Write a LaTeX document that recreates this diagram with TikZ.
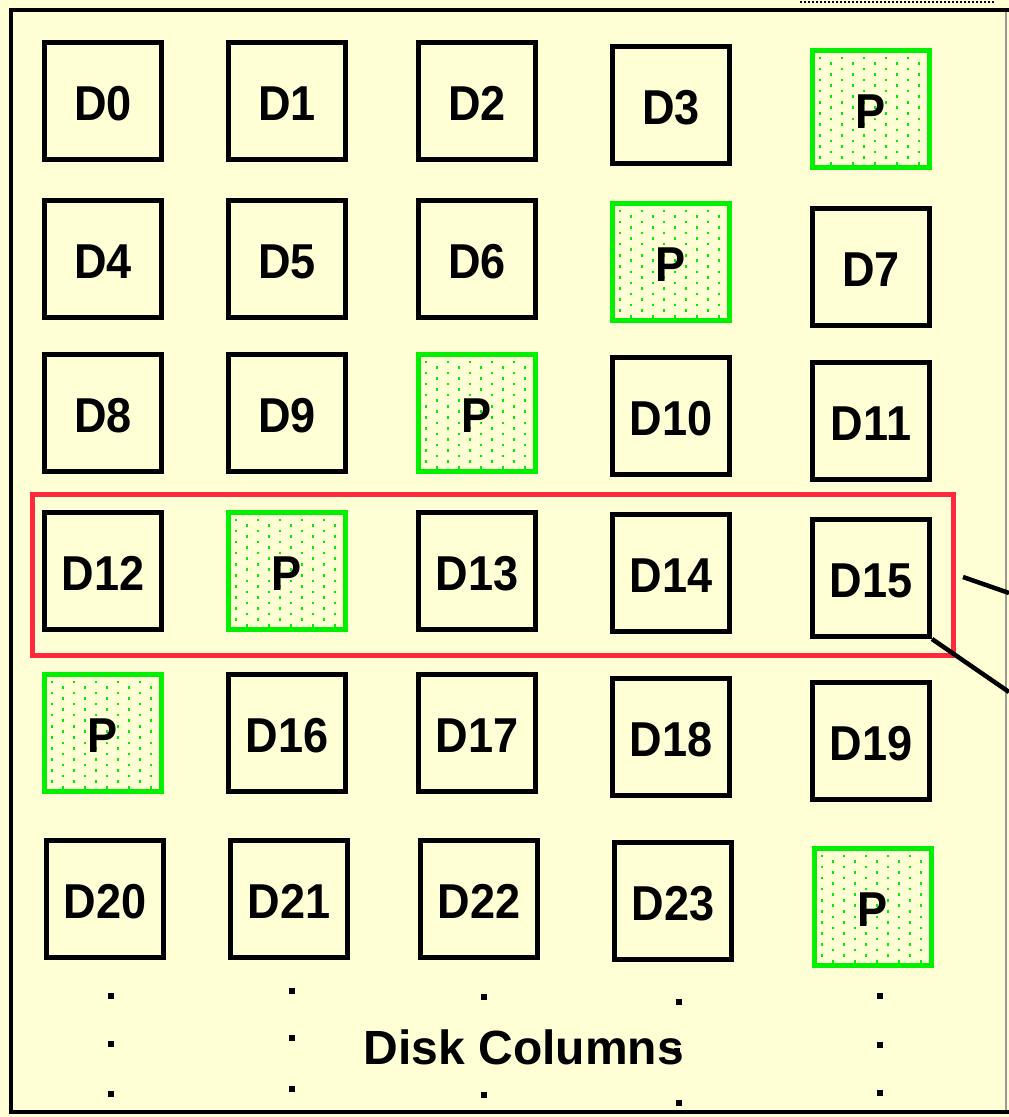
\documentclass[tikz,border=0pt]{standalone}
\usepackage{fontspec}
\setmainfont{Liberation Sans}
\newfontfamily\boxfont[FakeStretch=0.92]{Liberation Sans Bold}
\usetikzlibrary{calc}
\definecolor{bgyellow}{RGB}{255,255,214}
\definecolor{pgreen}{RGB}{0,240,0}
\definecolor{rowred}{RGB}{255,40,60}
\begin{document}
\begin{tikzpicture}[x=1pt,y=-1pt,
  disk/.style={draw=black, line width=5pt, minimum size=117pt, inner sep=0pt,
    text height=39pt, text depth=0pt,
    font=\boxfont\fontsize{49}{52}\selectfont},
  parity/.style={disk, draw=pgreen, line width=5.5pt,
    path picture={
      \foreach \j in {0,...,19}{
        \pgfmathsetmacro{\off}{mod(\j,2)*11}
        \foreach \i in {0,...,4}{
          \fill[pgreen] ([xshift=6pt+\off pt+22pt*\i, yshift=-6pt-5.55pt*\j]path picture bounding box.north west)
            rectangle ++(2.6pt,-2.6pt);
        }
      }
    }},
  vdot/.style={fill=black, minimum size=6pt, inner sep=0pt, draw=none},
  conn/.style={line width=4.5pt, draw=black}
]
\useasboundingbox (0,0) rectangle (1009,1117);
\fill[bgyellow] (0,0) rectangle (1009,1117);
% frame
\draw[black!40, line width=1.5pt] (1006,10) -- (1006,1112);
\draw[black, line width=4.5pt] (1009,10) -- (11,10) -- (11,1112) -- (1009,1112);
\draw[black, line width=1.2pt, dash pattern=on 2pt off 2pt] (800,2) -- (995,2);

% row 0
\node[disk] (d0) at (103,101) {D0};
\node[disk] (d1) at (287,101) {D1};
\node[disk] (d2) at (477,101) {D2};
\node[disk] (d3) at (671,105) {D3};
\node[parity] (p0) at (871,109) {P};
% row 1
\node[disk] (d4) at (103,259) {D4};
\node[disk] (d5) at (287,259) {D5};
\node[disk] (d6) at (477,259) {D6};
\node[parity] (p1) at (671,262) {P};
\node[disk] (d7) at (871,267) {D7};
% row 2
\node[disk] (d8) at (103,413) {D8};
\node[disk] (d9) at (287,413) {D9};
\node[parity] (p2) at (477,413) {P};
\node[disk] (d10) at (671,416) {D10};
\node[disk] (d11) at (871,421) {D11};
% row 3
\node[disk] (d12) at (103,571) {D12};
\node[parity] (p3) at (287,571) {P};
\node[disk] (d13) at (477,571) {D13};
\node[disk] (d14) at (671,573) {D14};
\node[disk] (d15) at (871,578) {D15};
% row 4
\node[parity] (p4) at (103,733) {P};
\node[disk] (d16) at (287,733) {D16};
\node[disk] (d17) at (477,733) {D17};
\node[disk] (d18) at (671,737) {D18};
\node[disk] (d19) at (871,741) {D19};
% row 5
\node[disk] (d20) at (105,899) {D20};
\node[disk] (d21) at (289,899) {D21};
\node[disk] (d22) at (479,899) {D22};
\node[disk] (d23) at (673,901) {D23};
\node[parity] (p5) at (873,907) {P};

% stripe highlight
\node[draw=rowred, line width=4.5pt, inner sep=0pt, minimum width=921pt, minimum height=161pt] (stripe) at (493,575) {};

% connectors to the right
\coordinate (e1) at (1009,593);
\coordinate (s1) at (963,577);
\coordinate (e2) at (1009,692);
\draw[conn] (s1) -- (e1);
\draw[conn] (d15.south east) -- (e2);

% label
\node[font=\bfseries\fontsize{48}{52}\selectfont] (lbl) at (524,1047) {Disk Columns};

% continuation dots
\foreach \x/\a/\b/\c [count=\k] in {111/996/1044/1094, 292/991/1038/1089, 484/997/1046/1095, 679/1002/1050/1103, 880/996/1045/1093}{
  \node[vdot] (dt\k a) at (\x,\a) {};
  \node[vdot] (dt\k c) at (\x,\c) {};
}
\node[vdot] (dt1b) at (111,1044) {};
\node[vdot] (dt2b) at (292,1038) {};
\node[vdot] (dt4b) at (677,1051) {};
\node[vdot] (dt5b) at (880,1045) {};
\end{tikzpicture}
\end{document}
